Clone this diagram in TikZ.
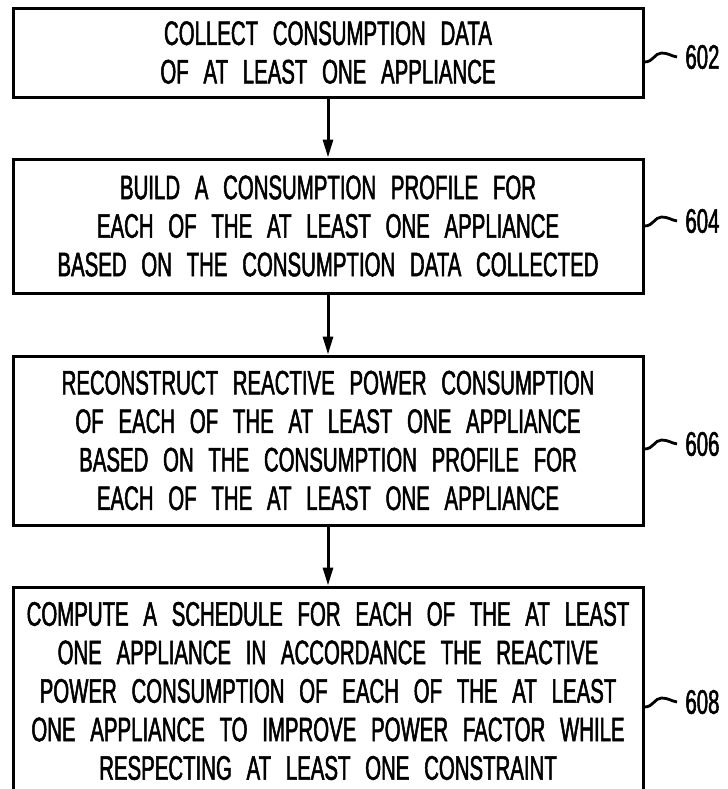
\documentclass[tikz,border=0pt]{standalone}
\usepackage{fontspec}
\setmainfont{Liberation Sans}[FakeStretch=0.6,WordSpace=2.6,FakeBold=1.5]
\usepackage{tikz}
\usetikzlibrary{arrows.meta}

\begin{document}
\begin{tikzpicture}[
    x=0.5pt, y=-0.5pt,
    step_box/.style={draw,line width=1.5pt,minimum width=315pt,align=center,inner sep=0pt,
        font=\fontsize{17}{19.25}\selectfont},
    ref_label/.style={anchor=west,inner sep=0pt,font=\fontsize{17}{19.25}\selectfont},
    flow_arrow/.style={line width=1.5pt,-{Triangle[length=9pt,width=5pt]}},
    lead_line/.style={line width=1.4pt}
]

% Page
\clip (0,0) rectangle (728,789);

% Steps
\node[step_box,minimum height=44.5pt] (n602) at (328,52.5)
    {COLLECT CONSUMPTION DATA\\ OF AT LEAST ONE APPLIANCE};
\node[step_box,minimum height=67pt] (n604) at (328,226)
    {BUILD A CONSUMPTION PROFILE FOR\\ EACH OF THE AT LEAST ONE APPLIANCE\\
     BASED ON THE CONSUMPTION DATA COLLECTED};
\node[step_box,minimum height=84.5pt] (n606) at (328,440.5)
    {RECONSTRUCT REACTIVE POWER CONSUMPTION\\ OF EACH OF THE AT LEAST ONE APPLIANCE\\
     BASED ON THE CONSUMPTION PROFILE FOR\\ EACH OF THE AT LEAST ONE APPLIANCE};
\node[step_box,minimum height=104pt] (n608) at (328,691)
    {COMPUTE A SCHEDULE FOR EACH OF THE AT LEAST\\ ONE APPLIANCE IN ACCORDANCE THE REACTIVE\\
     POWER CONSUMPTION OF EACH OF THE AT LEAST\\ ONE APPLIANCE TO IMPROVE POWER FACTOR WHILE\\
     RESPECTING AT LEAST ONE CONSTRAINT};

% Arrows
\draw[flow_arrow] (n602) -- (n604);
\draw[flow_arrow] (n604) -- (n606);
\draw[flow_arrow] (n606) -- (n608);

% Reference numerals with lead lines
\foreach \n/\y in {602/57, 604/221, 606/444, 608/702}
{
    \node[ref_label] (l\n) at (685,\y) {\n};
    \draw[lead_line] ([yshift=-2.5pt]n\n.east |- l\n.west)
        .. controls +(9,0) and +(-7,0) .. ++(17,-9)
        .. controls +(7,0) and +(-6,-1) .. ([xshift=-4pt]l\n.west);
}

\end{tikzpicture}
\end{document}
